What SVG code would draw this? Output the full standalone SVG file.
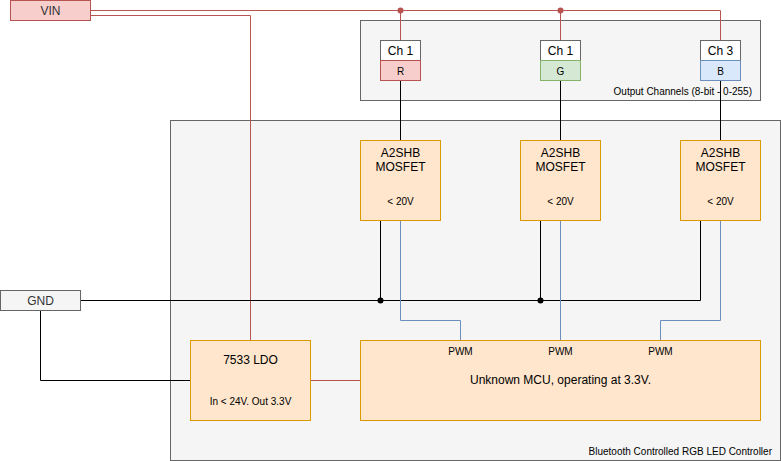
<svg xmlns="http://www.w3.org/2000/svg" width="781" height="461" viewBox="0 0 781 461">
<style>
text{font-family:"Liberation Sans",Arial,Helvetica,sans-serif;fill:#000;text-anchor:middle}
.gray{fill:#f5f5f5;stroke:#666666}
.white{fill:#ffffff;stroke:#666666}
.red{fill:#f8cecc;stroke:#b85450}
.green{fill:#d5e8d4;stroke:#82b366}
.blue{fill:#dae8fc;stroke:#6c8ebf}
.orange{fill:#ffe6cc;stroke:#d79b00}
.wr{fill:none;stroke:#b85450}
.wb{fill:none;stroke:#6c8ebf}
.wk{fill:none;stroke:#000000}
.f12{font-size:12px}
.f10{font-size:10px}
</style>
<rect width="781" height="461" fill="#ffffff"/>
<g id="controller">
<rect class="gray" x="170.5" y="120.5" width="610" height="340"/>
<text class="f10" x="772" y="455" style="text-anchor:end">Bluetooth Controlled RGB LED Controller</text>
</g>
<g id="output-channels">
<rect class="gray" x="360.5" y="20.5" width="400" height="80"/>
<text class="f10" x="752" y="95" style="text-anchor:end">Output Channels (8-bit - 0-255)</text>
</g>
<g id="connectors">
<path class="wr" d="M90.5 10.5H720.5V40.5M400.5 10.5V40.5M560.5 10.5V40.5"/>
<path class="wr" d="M90.5 15.5H250.5V340.5"/>
<path class="wr" d="M310.5 380.5H360.5"/>
<path class="wk" d="M400.5 80.5V140.5M560.5 80.5V140.5M720.5 80.5V140.5"/>
<path class="wk" d="M80.5 300.5H700.5V220.5M380.5 220.5V300.5M540.5 220.5V300.5"/>
<path class="wk" d="M40.5 310.5V380.5H190.5"/>
<path class="wb" d="M400.5 220.5V320.5H460.5V340.5M560.5 220.5V340.5M720.5 220.5V320.5H660.5V340.5"/>
<circle cx="400.5" cy="10.5" r="3" fill="#b85450"/>
<circle cx="560.5" cy="10.5" r="3" fill="#b85450"/>
<circle cx="380.5" cy="300.5" r="3" fill="#000"/>
<circle cx="540.5" cy="300.5" r="3" fill="#000"/>
</g>
<g id="vin">
<rect class="red" x="10.5" y="0.5" width="80" height="20"/>
<text class="f12" x="50.5" y="15" style="fill:#333">VIN</text>
</g>
<g id="gnd">
<rect class="gray" x="0.5" y="290.5" width="80" height="20"/>
<text class="f12" x="40.5" y="305" style="fill:#333">GND</text>
</g>
<g id="ch-r">
<rect class="white" x="380.5" y="40.5" width="40" height="20"/>
<rect class="red" x="380.5" y="60.5" width="40" height="20"/>
<text class="f12" x="400.5" y="55">Ch 1</text>
<text class="f10" x="400.5" y="75">R</text>
</g>
<g id="ch-g">
<rect class="white" x="540.5" y="40.5" width="40" height="20"/>
<rect class="green" x="540.5" y="60.5" width="40" height="20"/>
<text class="f12" x="560.5" y="55">Ch 1</text>
<text class="f10" x="560.5" y="75">G</text>
</g>
<g id="ch-b">
<rect class="white" x="700.5" y="40.5" width="40" height="20"/>
<rect class="blue" x="700.5" y="60.5" width="40" height="20"/>
<text class="f12" x="720.5" y="55">Ch 3</text>
<text class="f10" x="720.5" y="75">B</text>
</g>
<g id="mosfet-1">
<rect class="orange" x="360.5" y="140.5" width="80" height="80"/>
<text class="f12" x="400.5" y="157">A2SHB</text>
<text class="f12" x="400.5" y="171">MOSFET</text>
<text class="f10" x="400.5" y="205">&lt; 20V</text>
</g>
<g id="mosfet-2">
<rect class="orange" x="520.5" y="140.5" width="80" height="80"/>
<text class="f12" x="560.5" y="157">A2SHB</text>
<text class="f12" x="560.5" y="171">MOSFET</text>
<text class="f10" x="560.5" y="205">&lt; 20V</text>
</g>
<g id="mosfet-3">
<rect class="orange" x="680.5" y="140.5" width="80" height="80"/>
<text class="f12" x="720.5" y="157">A2SHB</text>
<text class="f12" x="720.5" y="171">MOSFET</text>
<text class="f10" x="720.5" y="205">&lt; 20V</text>
</g>
<g id="ldo">
<rect class="orange" x="190.5" y="340.5" width="120" height="80"/>
<text class="f12" x="250.5" y="364">7533 LDO</text>
<text class="f10" x="250.5" y="405">In &lt; 24V. Out 3.3V</text>
</g>
<g id="mcu">
<rect class="orange" x="360.5" y="340.5" width="400" height="80"/>
<text class="f10" x="460.5" y="355">PWM</text>
<text class="f10" x="560.5" y="355">PWM</text>
<text class="f10" x="660.5" y="355">PWM</text>
<text class="f12" x="560.5" y="384">Unknown MCU, operating at 3.3V.</text>
</g>
</svg>
